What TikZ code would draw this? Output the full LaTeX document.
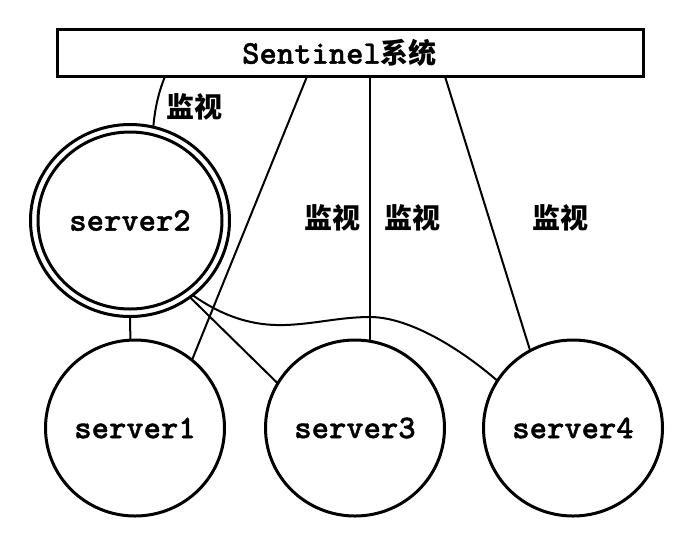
\documentclass[tikz,border=0pt]{standalone}
\usepackage{fontspec}
\newfontfamily\srvfont{lmmonolt10-bold.otf}[FakeBold=1.2]
\newfontfamily\cjk{Noto Sans CJK SC}
\usetikzlibrary{shapes.geometric}
\tikzset{
  srv/.style={ellipse, draw, line width=3pt, inner sep=0pt, outer sep=0pt,
    minimum width=179pt, minimum height=176pt,
    font=\fontsize{33}{35}\selectfont\srvfont},
  sysbox/.style={rectangle, draw, line width=3pt, inner sep=0pt, outer sep=0pt,
    minimum width=586pt, minimum height=47pt,
    font=\fontsize{33}{35}\selectfont\srvfont},
  conn/.style={line width=2pt},
  lbl/.style={font=\fontsize{28}{30}\selectfont\cjk\bfseries, inner sep=0pt},
}
\begin{document}
\begin{tikzpicture}[x=1pt,y=-1pt]
\useasboundingbox (0,0) rectangle (690,542);
% nodes
\node[sysbox] (sentinel) at (350.5,53) {Sentinel{\fontsize{28}{30}\selectfont\cjk\bfseries 系统}\hspace*{22pt}};
\node[srv, minimum width=199pt, minimum height=192pt] (s2) at (130,220.5) {server2};
\node[ellipse, draw, line width=3pt, inner sep=0pt, outer sep=0pt,
      minimum width=184pt, minimum height=177pt] (s2in) at (s2.center) {};
\node[srv] (s1) at (135,428) {server1};
\node[srv] (s3) at (355,428) {server3};
\node[srv] (s4) at (573,428) {server4};
% labels
\node[lbl] (l1) at (194,107) {监视};
\node[lbl] (l2) at (332,218) {监视};
\node[lbl] (l3) at (412,218) {监视};
\node[lbl] (l4) at (560,218) {监视};
% connectors from Sentinel
\draw[conn] ([xshift=107.5pt]sentinel.south west) .. controls +(-7,17) and +(1.5,-17) .. (s2.76);
\draw[conn] ([xshift=249.5pt]sentinel.south west) -- (s1.50);
\draw[conn] (s3.80 |- sentinel.south) -- (s3.80);
\draw[conn] ([xshift=387.5pt]sentinel.south west) -- (s4.119);
% connectors from server2
\draw[conn] (s2.south) -- (s1.93);
\draw[conn] (s2.-52) -- (s3.150);
\draw[conn] (s2.-50) .. controls (225,318) and (255,326) .. (285,325)
  .. controls (315,324) and (340,317) .. (370,317)
  .. controls (410,317) and (462,350) .. (s4.148);
\end{tikzpicture}
\end{document}
